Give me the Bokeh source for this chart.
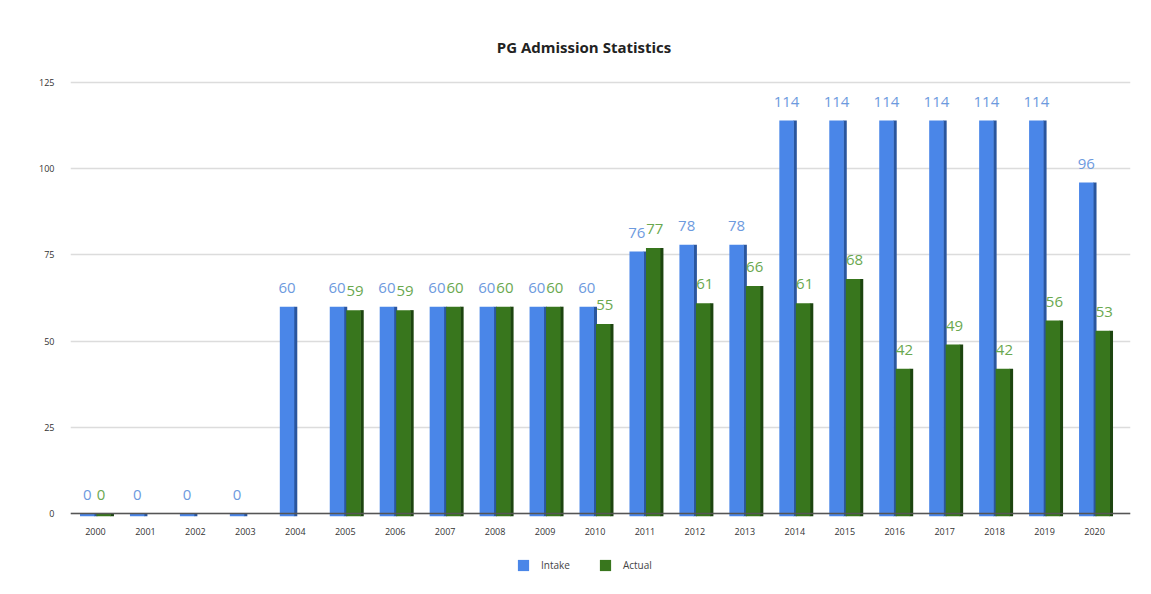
from bokeh.plotting import figure
from bokeh.models import Range1d, FixedTicker, Legend, LegendItem, Span, Label, ColumnDataSource
from bokeh.core.properties import value
from bokeh.embed import file_html
from bokeh.resources import INLINE

years = list(range(2000, 2021))
intake = [0, 0, 0, 0, 60, 60, 60, 60, 60, 60, 60, 76, 78, 78, 114, 114, 114, 114, 114, 114, 96]
actual = [0, None, None, None, None, 59, 59, 60, 60, 60, 55, 77, 61, 66, 61, 68, 42, 49, 42, 56, 53]
y_ticks = [0, 25, 50, 75, 100, 125]
title_text = "PG Admission Statistics"

BLUE = "#4a86e8"
BLUE_SIDE = "#2a569e"
BLUE_LBL = "#6d9ade"
GREEN = "#38761d"
GREEN_SIDE = "#1d4510"
GREEN_LBL = "#6aa84f"
FONT = "Open Sans"

p = figure(frame_width=1060, frame_height=556, output_backend="svg", toolbar_location=None,
           x_range=Range1d(1999.5, 2020.72), y_range=Range1d(-20.59, 140.7),
           x_axis_location=None,
           min_border_left=70, min_border_right=8, min_border_top=28, min_border_bottom=4)
p.outline_line_color = None
p.xgrid.grid_line_color = None
p.ygrid.ticker = FixedTicker(ticks=y_ticks)
p.ygrid.grid_line_color = "#dcdcdc"
p.ygrid.grid_line_width = 1.5

off = 0.165
w = 0.29
side = 0.07
base = -0.8

xi = [y - off for y in years]
xa = [y + off for y in years]

src_i = ColumnDataSource(dict(x=xi, xs=[x + w / 2 + side / 2 - 0.01 for x in xi], top=intake,
                              lbl=[str(v) for v in intake], ly=[v + 4 for v in intake]))
ax = [x for x, v in zip(xa, actual) if v is not None]
av = [v for v in actual if v is not None]
src_a = ColumnDataSource(dict(x=ax, xs=[x + w / 2 + side / 2 - 0.01 for x in ax], top=av,
                              lbl=[str(v) for v in av], ly=[v + 4 for v in av]))

# 3D right sides
p.vbar(x="xs", width=side, bottom=base, top="top", source=src_i, fill_color=BLUE_SIDE, line_color=None)
r_i = p.vbar(x="x", width=w, bottom=base, top="top", source=src_i, fill_color=BLUE, line_color=None)
p.vbar(x="xs", width=side, bottom=base, top="top", source=src_a, fill_color=GREEN_SIDE, line_color=None)
r_a = p.vbar(x="x", width=w, bottom=base, top="top", source=src_a, fill_color=GREEN, line_color=None)

p.add_layout(Span(location=0, dimension="width", line_color="#555555", line_width=1.5))

p.text(x="x", y="ly", text="lbl", source=src_i, text_font=value(FONT), text_font_size="15px",
       text_color=BLUE_LBL, text_align="center", text_baseline="bottom")
p.text(x="x", y="ly", text="lbl", source=src_a, text_font=value(FONT), text_font_size="15px",
       text_color=GREEN_LBL, text_align="left", text_baseline="bottom", x_offset=-7)

# year (category) labels under the baseline
p.text(x=years, y=[0] * len(years), text=[str(y) for y in years], text_font=value(FONT),
       text_font_size="9px", text_color="#333333", text_align="center", text_baseline="middle",
       y_offset=18)

p.add_layout(Label(x=2009.78, y=135.2, text=title_text, text_font=FONT, text_font_size="15px",
                   text_font_style="bold", text_color="#222222", text_align="center",
                   text_baseline="middle"))

p.yaxis.ticker = FixedTicker(ticks=y_ticks)
p.yaxis.axis_line_color = None
p.yaxis.major_tick_line_color = None
p.yaxis.minor_tick_line_color = None
p.yaxis.major_label_text_font = FONT
p.yaxis.major_label_text_font_size = "9px"
p.yaxis.major_label_text_color = "#333333"
p.yaxis.major_label_standoff = 10

legend = Legend(items=[LegendItem(label="Intake", renderers=[r_i]),
                       LegendItem(label="Actual", renderers=[r_a])],
                orientation="horizontal", location=(446, 12), border_line_color=None,
                background_fill_alpha=0,
                label_text_font=FONT, label_text_font_size="10px", label_text_color="#444444",
                glyph_width=14, glyph_height=14, spacing=28, label_standoff=11,
                margin=0, padding=6)
p.add_layout(legend, "center")

open("out.html", "w").write(file_html(p, INLINE))
